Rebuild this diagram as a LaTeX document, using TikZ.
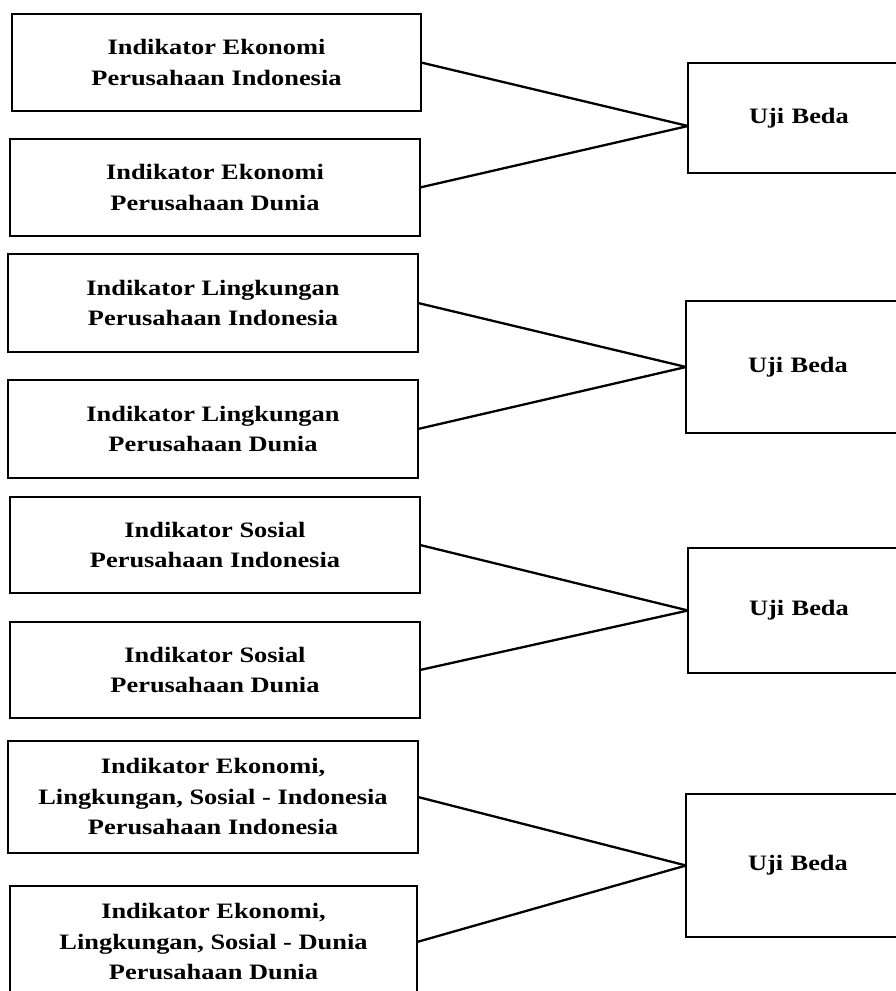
\documentclass[tikz,border=0pt]{standalone}
\usepackage{fontspec}
\setmainfont{Liberation Serif}[FakeStretch=1.2]
\begin{document}
\begin{tikzpicture}[x=1pt,y=1pt,
  box/.style={draw, line width=2.3pt, rectangle, inner sep=0pt, outer sep=0pt,
    align=center, font=\fontsize{22}{30.5}\selectfont\bfseries},
  link/.style={line width=2.3pt}]
\useasboundingbox (0,0) rectangle (896,991);
\clip (0,0) rectangle (896,991);
% left boxes (y = 991 - pixel y)
\node[box, minimum width=409pt, minimum height=97pt] (b1) at (216.5,928.5) {Indikator Ekonomi\\Perusahaan Indonesia};
\node[box, minimum width=410pt, minimum height=97pt] (b2) at (215,803.5) {Indikator Ekonomi\\Perusahaan Dunia};
\node[box, minimum width=410pt, minimum height=98pt] (b3) at (213,688) {Indikator Lingkungan\\Perusahaan Indonesia};
\node[box, minimum width=410pt, minimum height=98pt] (b4) at (213,562) {Indikator Lingkungan\\Perusahaan Dunia};
\node[box, minimum width=410pt, minimum height=96pt] (b5) at (215,446) {Indikator Sosial\\Perusahaan Indonesia};
\node[box, minimum width=410pt, minimum height=96pt] (b6) at (215,321) {Indikator Sosial\\Perusahaan Dunia};
\node[box, minimum width=410pt, minimum height=112pt] (b7) at (213,194) {Indikator Ekonomi,\\Lingkungan, Sosial - Indonesia\\Perusahaan Indonesia};
\node[box, minimum width=407pt, minimum height=112pt] (b8) at (213.5,49) {Indikator Ekonomi,\\Lingkungan, Sosial - Dunia\\Perusahaan Dunia};
% right boxes
\node[box, minimum width=222pt, minimum height=110pt, text width=222pt] (u1) at (799,873) {Uji Beda};
\node[box, minimum width=224pt, minimum height=132pt, text width=224pt] (u2) at (798,624) {Uji Beda};
\node[box, minimum width=222pt, minimum height=125pt, text width=222pt] (u3) at (799,380.5) {Uji Beda};
\node[box, minimum width=224pt, minimum height=143pt, text width=224pt] (u4) at (798,125.5) {Uji Beda};
% connectors
\coordinate (m1) at ([yshift=-8pt]u1.west);
\draw[link] (b1.east) -- (m1);
\draw[link] (b2.east) -- (m1);
\draw[link] (b3.east) -- (u2.west);
\draw[link] (b4.east) -- (u2.west);
\draw[link] (b5.east) -- (u3.west);
\draw[link] (b6.east) -- (u3.west);
\draw[link] (b7.east) -- (u4.west);
\draw[link] (b8.east) -- (u4.west);
\end{tikzpicture}
\end{document}
